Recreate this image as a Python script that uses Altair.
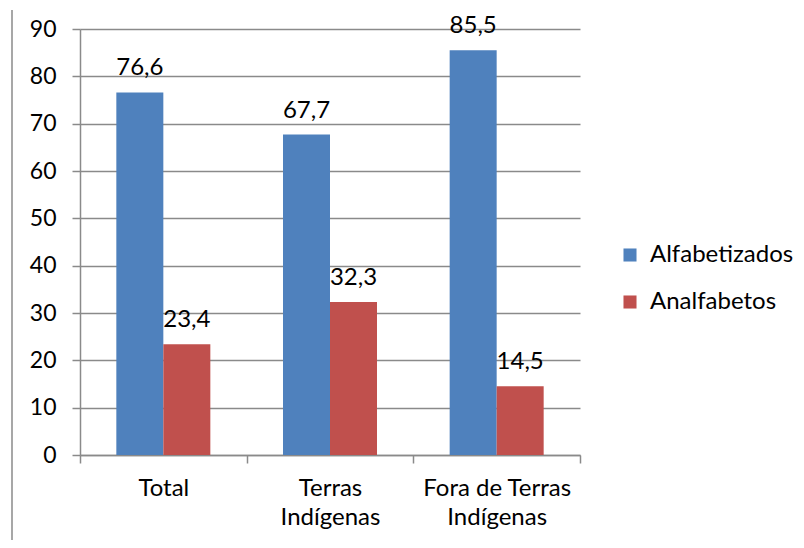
import altair as alt
import pandas as pd

categories = ["Total", "Terras\nIndígenas", "Fora de Terras\nIndígenas"]
series = ["Alfabetizados", "Analfabetos"]
alfabetizados = [76.6, 67.7, 85.5]
analfabetos = [23.4, 32.3, 14.5]
y_ticks = [0, 10, 20, 30, 40, 50, 60, 70, 80, 90]
colors = ["#4F81BD", "#C0504D"]

rows = []
for c, a, n in zip(categories, alfabetizados, analfabetos):
    rows.append({"cat": c, "serie": series[0], "v": a})
    rows.append({"cat": c, "serie": series[1], "v": n})
df = pd.DataFrame(rows)
df["lbl"] = df["v"].map(lambda v: f"{v:.1f}".replace(".", ","))

FONT = "Lato"
FS = 24
GRID = "#8a8a8a"

x = alt.X("cat:N", sort=categories, title=None,
          scale=alt.Scale(paddingInner=0, paddingOuter=0),
          axis=alt.Axis(labelExpr="split(datum.label, '\\n')", labelAngle=0,
                        labelFont=FONT, labelFontSize=FS, labelColor="#000",
                        labelLineHeight=29, labelPadding=13, labelBaseline="top",
                        tickBand="extent", tickSize=8, tickColor=GRID, tickWidth=1.5,
                        domainColor=GRID, domainWidth=1.5, grid=False))
xo = alt.XOffset("serie:N", sort=series,
                 scale=alt.Scale(paddingInner=0, paddingOuter=0.773))
y = alt.Y("v:Q", title=None,
          scale=alt.Scale(domain=[0, 90], nice=False),
          axis=alt.Axis(values=y_ticks, labelFont=FONT, labelFontSize=23,
                        labelColor="#000", labelPadding=16, tickSize=8,
                        tickColor=GRID, tickWidth=1.5, domainColor=GRID,
                        domainWidth=1.5, gridColor=GRID, gridWidth=1.5,
                        gridOpacity=1))

base = alt.Chart(df)
bars = base.mark_bar().encode(
    x=x, xOffset=xo, y=y,
    color=alt.Color("serie:N", sort=series, title=None,
                    scale=alt.Scale(domain=series, range=colors),
                    legend=alt.Legend(orient="none", legendX=538, legendY=214,
                                      symbolType="square", symbolSize=170,
                                      symbolStrokeWidth=0, labelFont=FONT,
                                      labelFontSize=FS, labelColor="#000",
                                      rowPadding=23, labelOffset=8)),
)
labels = base.mark_text(baseline="alphabetic", dy=-17, font=FONT, fontSize=FS,
                        color="#000").encode(
    x=alt.X("cat:N", sort=categories), xOffset=alt.XOffset("serie:N", sort=series),
    y="v:Q", text="lbl:N")
border = alt.Chart(pd.DataFrame({"k": [0]})).mark_rule(color=GRID, strokeWidth=1.5).encode(
    x=alt.value(-68), y=alt.value(-19), y2=alt.value(530))

chart = alt.layer(bars, labels, border).properties(
    width=500, height=426,
    autosize=alt.AutoSizeParams(type="none"),
    padding={"left": 72, "top": 21, "right": 216, "bottom": 85},
).configure_view(stroke=None)

chart.save("out.html", embed_options={"renderer": "svg", "actions": False})
